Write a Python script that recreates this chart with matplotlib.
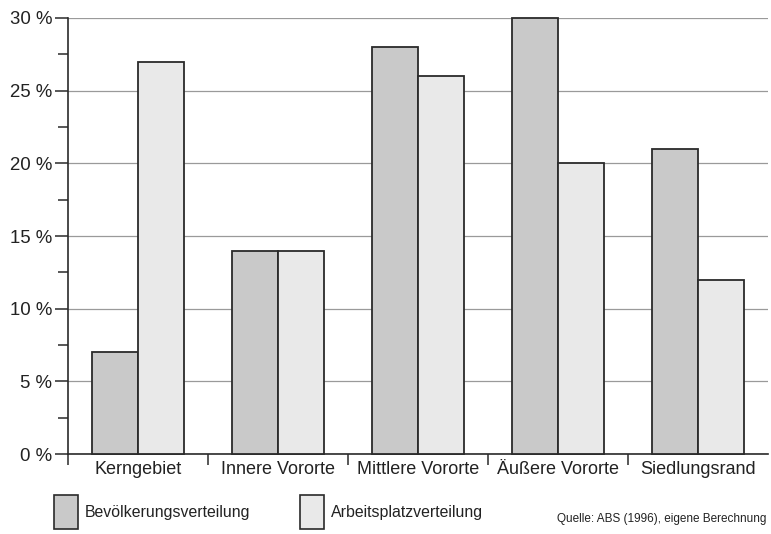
import matplotlib.pyplot as plt
import numpy as np
from matplotlib.patches import Patch
from matplotlib.ticker import MultipleLocator, FixedLocator

plt.rcParams['font.family'] = ['Liberation Sans', 'DejaVu Sans']

categories = ['Kerngebiet', 'Innere Vororte', 'Mittlere Vororte', 'Äußere Vororte', 'Siedlungsrand']
bevoelkerung = [7, 14, 28, 30, 21]
arbeitsplatz = [27, 14, 26, 20, 12]
y_ticks = [0, 5, 10, 15, 20, 25, 30]

dark = '#c9c9c9'
light = '#e9e9e9'
edge = '#2a2a2a'

fig = plt.figure(figsize=(7.71, 5.34), dpi=100)
ax = fig.add_axes([0.0882, 0.1498, 0.9079, 0.8165])

x = np.arange(len(categories))
w = 0.328
ax.bar(x - w / 2, bevoelkerung, width=w, color=dark, edgecolor=edge, linewidth=1.3, zorder=3, clip_on=False)
ax.bar(x + w / 2, arbeitsplatz, width=w, color=light, edgecolor=edge, linewidth=1.3, zorder=3, clip_on=False)

ax.set_xlim(-0.5, 4.5)
ax.set_ylim(0, 30)
ax.set_yticks(y_ticks)
ax.set_yticklabels([f'{v} %' for v in y_ticks])
ax.yaxis.set_minor_locator(MultipleLocator(2.5))
ax.yaxis.grid(True, color='#9a9a9a', linewidth=0.9, zorder=0)
ax.tick_params(axis='y', which='major', length=9.5, width=1.1, color=edge, pad=2, labelsize=13.4, labelcolor='#222222')
ax.tick_params(axis='y', which='minor', length=7, width=1.1, color=edge)

ax.set_xticks(x)
ax.set_xticklabels(categories)
ax.xaxis.set_minor_locator(FixedLocator([-0.5, 0.5, 1.5, 2.5, 3.5]))
ax.tick_params(axis='x', which='major', length=0, pad=5, labelsize=13, labelcolor='#222222')
ax.tick_params(axis='x', which='minor', length=8, width=1.1, color=edge)

for s in ['top', 'right']:
    ax.spines[s].set_visible(False)
for s in ['left', 'bottom']:
    ax.spines[s].set_color(edge)
    ax.spines[s].set_linewidth(1.2)

handles = [Patch(facecolor=dark, edgecolor=edge, linewidth=1.2, label='Bevölkerungsverteilung'),
           Patch(facecolor=light, edgecolor=edge, linewidth=1.2, label='Arbeitsplatzverteilung')]
fig.legend(handles=handles, loc='upper left', bbox_to_anchor=(0.070, 0.073), ncol=2,
           frameon=False, fontsize=11.4, handlelength=1.52, handleheight=2.95,
           handletextpad=0.45, columnspacing=3.1, borderpad=0, borderaxespad=0,
           labelcolor='#222222')

fig.text(0.994, 0.028, 'Quelle: ABS (1996), eigene Berechnung', ha='right', va='center',
         fontsize=8.5, color='#222222')

fig.savefig('out.png', dpi=100)
